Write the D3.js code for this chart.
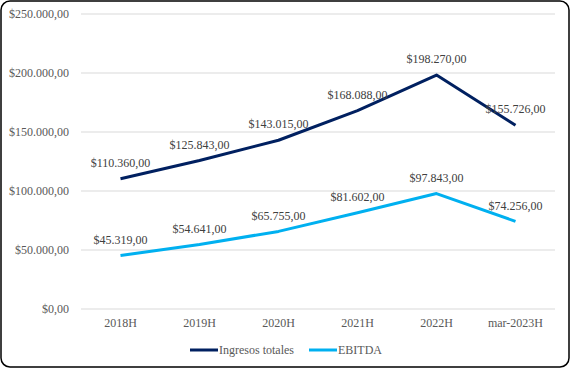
<!DOCTYPE html>
<html><head><meta charset="utf-8">
<script src="https://cdn.jsdelivr.net/npm/d3@7"></script>
<style>body{margin:0;background:#fff}svg{display:block}text{font-family:"Liberation Serif","Times New Roman",serif}</style>
</head><body>
<script>
const categories = ["2018H","2019H","2020H","2021H","2022H","mar-2023H"];
const ingresos = [110360,125843,143015,168088,198270,155726];
const ebitda = [45319,54641,65755,81602,97843,74256];
const yTicks = [0,50000,100000,150000,200000,250000];
const seriesNames = ["Ingresos totales","EBITDA"];
const colors = ["#002060","#00B0F0"];

const W=570,H=368;
const svg=d3.select("body").append("svg").attr("width",W).attr("height",H);
svg.append("rect").attr("x",1).attr("y",1).attr("width",W-2).attr("height",H-2).attr("rx",9).attr("fill","#fff").attr("stroke","#000").attr("stroke-width",1.5);

const loc=d3.formatLocale({decimal:",",thousands:".",grouping:[3],currency:["$",""]});
const fmt=loc.format("$,.2f");

const x=d3.scaleBand().domain(categories).range([81,555]);
const y=d3.scaleLinear().domain([0,250000]).range([309,14]);

const g=svg.append("g");
g.selectAll("line.grid").data(yTicks).enter().append("line")
 .attr("x1",81).attr("x2",555).attr("y1",d=>y(d)).attr("y2",d=>y(d))
 .attr("stroke","#d9d9d9").attr("stroke-width",1);
g.selectAll("text.yl").data(yTicks).enter().append("text")
 .attr("x",69).attr("y",d=>y(d)).attr("dy","0.35em").attr("text-anchor","end")
 .attr("font-size",12).attr("fill","#595959").text(d=>fmt(d));
g.selectAll("text.xl").data(categories).enter().append("text")
 .attr("x",d=>x(d)+x.bandwidth()/2).attr("y",323).attr("dy","0.35em").attr("text-anchor","middle")
 .attr("font-size",12).attr("fill","#595959").text(d=>d);

const line=d3.line().x((d,i)=>x(categories[i])+x.bandwidth()/2).y(d=>y(d));
[ingresos,ebitda].forEach((s,k)=>{
  svg.append("path").datum(s).attr("d",line).attr("fill","none").attr("stroke",colors[k]).attr("stroke-width",3).attr("stroke-linejoin","round");
  svg.selectAll(null).data(s).enter().append("text")
   .attr("x",(d,i)=>x(categories[i])+x.bandwidth()/2).attr("y",d=>y(d)-16).attr("dy","0.35em")
   .attr("text-anchor","middle").attr("font-size",12).attr("fill","#404040").text(d=>fmt(d));
});

const leg=[{x:190,tx:219},{x:309,tx:338}];
seriesNames.forEach((n,k)=>{
  svg.append("line").attr("x1",leg[k].x).attr("x2",leg[k].x+28).attr("y1",350).attr("y2",350).attr("stroke",colors[k]).attr("stroke-width",3);
  svg.append("text").attr("x",leg[k].tx).attr("y",350).attr("dy","0.35em").attr("font-size",12).attr("fill","#595959").text(n);
});
</script>
</body></html>
